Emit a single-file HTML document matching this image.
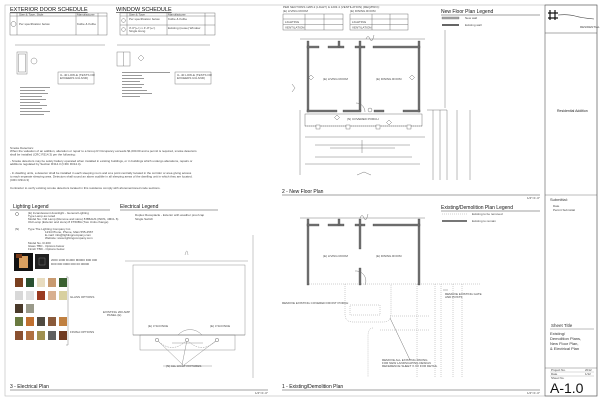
<!DOCTYPE html>
<html><head><meta charset="utf-8"><style>
html,body{margin:0;padding:0;background:#fff}
svg{display:block}
text{font-family:"Liberation Sans",sans-serif}
.t{font-size:3px;fill:#444}
.h{font-size:6.5px;fill:#111}
</style></head><body>
<svg width="600" height="402" viewBox="0 0 600 402" xmlns="http://www.w3.org/2000/svg">
<rect x="0" y="0" width="600" height="402" fill="#fff"/>
<!-- frame -->
<rect x="5" y="5" width="592" height="391" fill="none" stroke="#bbb" stroke-width="0.6"/>
<!-- title block -->
<rect x="545" y="5" width="52" height="391" fill="none" stroke="#555" stroke-width="0.6"/>
<line x1="545" y1="33" x2="597" y2="33" stroke="#555" stroke-width="0.5"/>
<path d="M550 10 L550 20 M555 10 L555 20 M548 13 L558 13 M548 18 L558 18" stroke="#111" stroke-width="1.2"/>
<path d="M558 15 Q568 14 575 16 T594 19" stroke="#444" fill="none" stroke-width="0.6"/>
<text x="580" y="28" class="t">RESIDENTIAL</text>
<text x="557" y="112" style="font-size:3.5px" fill="#222">Residential Addition</text>
<line x1="545" y1="195" x2="597" y2="195" stroke="#555" stroke-width="0.4"/>
<text x="550" y="201" style="font-size:4px" fill="#333">Submittal:</text>
<text x="553" y="207" class="t">Date</text>
<text x="553" y="211" class="t">Permit Submittal</text>
<text x="551" y="327" style="font-size:4.5px" fill="#333">Sheet Title</text>
<line x1="550" y1="329" x2="594" y2="329" stroke="#555" stroke-width="0.4"/>
<text x="550" y="335" style="font-size:4px" fill="#333">Existing/</text>
<text x="550" y="340" style="font-size:4px" fill="#333">Demolition Plans,</text>
<text x="550" y="345" style="font-size:4px" fill="#333">New Floor Plan,</text>
<text x="550" y="350" style="font-size:4px" fill="#333">&amp; Electrical Plan</text>
<line x1="545" y1="368" x2="597" y2="368" stroke="#555" stroke-width="0.4"/>
<text x="551" y="371" class="t">Project No.</text><text x="585" y="371" class="t">2012</text>
<line x1="550" y1="372" x2="594" y2="372" stroke="#888" stroke-width="0.3"/>
<text x="551" y="375" class="t">Date</text><text x="585" y="375" class="t">1/12</text>
<line x1="550" y1="376" x2="594" y2="376" stroke="#888" stroke-width="0.3"/>
<text x="551" y="379" class="t">Sheet No.</text>
<text x="550" y="393" style="font-size:14px" fill="#111">A-1.0</text>

<!-- door schedule -->
<text x="10" y="11" class="h" style="font-size:5.5px;text-decoration:underline">EXTERIOR DOOR SCHEDULE</text>
<g stroke="#555" stroke-width="0.4" fill="none">
<rect x="10" y="13" width="97" height="22"/><line x1="10" y1="16" x2="107" y2="16"/>
<line x1="17" y1="13" x2="17" y2="35"/><line x1="76" y1="13" x2="76" y2="35"/><line x1="98" y1="13" x2="98" y2="35"/>
<circle cx="13.5" cy="24" r="2.5"/>
<rect x="120" y="13" width="95" height="22"/><line x1="120" y1="16" x2="215" y2="16"/><line x1="120" y1="25" x2="215" y2="25"/>
<line x1="127" y1="13" x2="127" y2="35"/><line x1="167" y1="13" x2="167" y2="35"/><line x1="205" y1="13" x2="205" y2="35"/>
<path d="M123.5 18 l2.5 2.5 l-2.5 2.5 l-2.5 -2.5z M123.5 27 l2.5 2.5 l-2.5 2.5 l-2.5 -2.5z"/>
</g>
<text x="19" y="15.3" class="t">Size &amp; Type, Style</text><text x="77" y="15.3" class="t">Manufacturer</text>
<text x="19" y="25" class="t">Per specification below</text><text x="77" y="25" class="t">Kolbe &amp; Kolbe</text>
<text x="116" y="11" class="h" style="font-size:5.5px;text-decoration:underline">WINDOW SCHEDULE</text>
<text x="129" y="15.3" class="t">Size &amp; Type</text><text x="168" y="15.3" class="t">Manufacturer</text>
<text x="129" y="20" class="t">Per specification below</text><text x="168" y="20" class="t">Kolbe &amp; Kolbe</text>
<text x="129" y="29" class="t">3'-0"(+/-) x 4'-0"(+/-)</text><text x="129" y="32" class="t">Single Hung</text><text x="168" y="29" class="t">Existing (reuse) Window</text>
<!-- door detail -->
<g stroke="#666" stroke-width="0.4" fill="none">
<line x1="15" y1="45" x2="105" y2="45"/>
<rect x="17" y="52" width="10" height="22"/><rect x="18.5" y="54" width="7" height="18"/>
<circle cx="34" cy="61" r="3"/>
<rect x="58" y="72" width="36" height="12"/>
<line x1="117" y1="45" x2="210" y2="45"/>
<rect x="117" y="52" width="13" height="14"/><line x1="123.5" y1="52" x2="123.5" y2="66"/>
<path d="M141 55 l3 3 l-3 3 l-3 -3z"/>
<rect x="175" y="72" width="36" height="12"/>
</g>
<g fill="#999">
<rect x="20" y="87" width="30" height="1"/><rect x="20" y="90" width="25" height="1"/><rect x="20" y="93" width="28" height="1"/><rect x="20" y="96" width="22" height="1"/><rect x="20" y="99" width="26" height="1"/><rect x="20" y="102" width="20" height="1"/><rect x="20" y="105" width="27" height="1"/><rect x="20" y="108" width="22" height="1"/><rect x="20" y="111" width="30" height="1"/><rect x="20" y="114" width="24" height="1"/>
<rect x="122" y="72" width="48" height="1"/><rect x="122" y="75" width="20" height="1"/><rect x="122" y="78" width="22" height="1"/><rect x="122" y="81" width="18" height="1"/><rect x="122" y="84" width="22" height="1"/><rect x="122" y="87" width="20" height="1"/><rect x="122" y="90" width="25" height="1"/><rect x="122" y="93" width="30" height="1"/><rect x="122" y="96" width="18" height="1"/>
</g>
<text x="60" y="76" class="t">U-.40 LOW-E (TESTS OR</text><text x="60" y="79" class="t">EXCEEDS U/A AND)</text><text x="177" y="76" class="t">U-.40 LOW-E (TESTS OR</text><text x="177" y="79" class="t">EXCEEDS U/A AND)</text>
<!-- smoke -->
<text x="10" y="149" class="t">Smoke Detectors:</text>
<text x="10" y="152" class="t">When the valuation of an addition, alteration or repair to a Group R Occupancy exceeds $1,000.00 and a permit is required, smoke detectors</text>
<text x="10" y="155.5" class="t">shall be installed (CRC R314.3) per the following:</text>
<text x="10" y="162" class="t">- Smoke detectors may be solely battery operated when installed in existing buildings, or in buildings which undergo alterations, repairs or</text>
<text x="10" y="165" class="t">additions regulated by Section R314.3 (CRC R314.4).</text>
<text x="10" y="174" class="t">- In dwelling units, a detector shall be installed in each sleeping room and at a point centrally located in the corridor or area giving access</text>
<text x="10" y="177.5" class="t">to each separate sleeping area. Detectors shall sound an alarm audible in all sleeping areas of the dwelling unit in which they are located.</text>
<text x="10" y="181" class="t">(CRC R314.3)</text>
<text x="10" y="189" class="t">Contractor to verify existing smoke detectors located in this residence comply with aforementioned code sections.</text>

<!-- top center tables -->
<text x="283" y="8" class="t">PER SECTIONS 1205.2 (LIGHT) &amp; 1203.4 (VENTILATION) (REQ/PRO):</text>
<text x="283" y="12" class="t">(E) LIVING ROOM</text><text x="350" y="12" class="t">(E) DINING ROOM</text>
<g stroke="#555" stroke-width="0.4" fill="none"><rect x="283" y="14" width="60" height="16"/><line x1="283" y1="19" x2="343" y2="19"/><line x1="283" y1="24.5" x2="343" y2="24.5"/><line x1="305" y1="14" x2="305" y2="30"/><line x1="324" y1="14" x2="324" y2="30"/>
<rect x="350" y="14" width="58" height="16"/><line x1="350" y1="19" x2="408" y2="19"/><line x1="350" y1="24.5" x2="408" y2="24.5"/><line x1="372" y1="14" x2="372" y2="30"/><line x1="390" y1="14" x2="390" y2="30"/></g>
<text x="285" y="23" class="t">LIGHTING</text><text x="285" y="28.5" class="t">VENTILATION</text><text x="352" y="23" class="t">LIGHTING</text><text x="352" y="28.5" class="t">VENTILATION</text>
<!-- new floor plan legend -->
<text x="441" y="13" style="font-size:5px" fill="#111">New Floor Plan Legend</text>
<line x1="441" y1="15" x2="540" y2="15" stroke="#444" stroke-width="0.5"/>
<rect x="442" y="17" width="17" height="2" fill="#aaa" stroke="#555" stroke-width="0.3"/>
<rect x="442" y="24" width="17" height="2" fill="#666"/>
<text x="465" y="19" class="t">New wall</text><text x="465" y="26" class="t">Existing wall</text>
<!-- NEW FLOOR PLAN -->
<g stroke="#555" stroke-width="0.4" fill="none">
<line x1="300" y1="39" x2="425" y2="39"/>
<path d="M366 39 q2 -5 4 0 t4 -4"/>
<line x1="445" y1="30" x2="445" y2="108"/>
<line x1="300" y1="110" x2="300" y2="175"/>
<line x1="427" y1="110" x2="447" y2="110"/><line x1="433" y1="110" x2="433" y2="180"/><line x1="440" y1="110" x2="440" y2="180"/><line x1="447" y1="110" x2="447" y2="180"/><line x1="457" y1="110" x2="457" y2="180"/><line x1="470" y1="110" x2="470" y2="180"/>
<rect x="305" y="114" width="117" height="12"/>
<line x1="305" y1="126" x2="422" y2="126" stroke-dasharray="1,1"/>
<line x1="305" y1="137" x2="425" y2="137"/><line x1="315" y1="145" x2="410" y2="145"/><line x1="330" y1="148" x2="395" y2="148"/><line x1="315" y1="157" x2="412" y2="157"/><line x1="305" y1="164" x2="420" y2="164"/>
<line x1="362" y1="140" x2="362" y2="153"/>
<path d="M357 175 l7 -3 l7 3"/>
<path d="M365 112 a9 9 0 0 0 -9 -9"/>
<path d="M292 84 l3 4 l-3 4"/>
<path d="M311 75 l2.5 2.5 l-2.5 2.5 l-2.5 -2.5z M412 75 l2.5 2.5 l-2.5 2.5 l-2.5 -2.5z M337 115 l2.5 2.5 l-2.5 2.5 l-2.5 -2.5z M389 120 l2.5 2.5 l-2.5 2.5 l-2.5 -2.5z"/>
<circle cx="370" cy="110" r="2"/>
</g>
<g fill="#777" stroke="#333" stroke-width="0.3">
<rect x="307" y="41" width="2" height="71"/><rect x="418" y="41" width="2" height="71"/>
<rect x="307" y="46" width="12" height="2"/><rect x="328" y="46" width="16" height="2"/><rect x="338" y="41" width="2" height="6"/>
<rect x="355" y="46" width="10" height="2"/><rect x="359" y="41" width="2" height="70"/>
<rect x="373" y="46" width="47" height="2"/>
<rect x="307" y="110" width="30" height="2"/><rect x="343" y="110" width="18" height="2"/><rect x="374" y="110" width="10" height="2"/><rect x="403" y="110" width="17" height="2"/>
<rect x="316" y="125" width="4" height="4" fill="#fff"/><rect x="346" y="125" width="4" height="4" fill="#fff"/><rect x="376" y="125" width="4" height="4" fill="#fff"/><rect x="407" y="125" width="4" height="4" fill="#fff"/>
</g>
<text x="323" y="80" class="t">(E) LIVING ROOM</text><text x="376" y="80" class="t">(E) DINING ROOM</text>
<text x="347" y="120" class="t">(N) COVERED PORCH</text>
<text x="282" y="193" style="font-size:5px" fill="#111">2 - New Floor Plan</text>
<line x1="282" y1="195" x2="540" y2="195" stroke="#444" stroke-width="0.5"/>
<text x="527" y="199" class="t">1/4"=1'-0"</text>

<!-- LIGHTING -->
<text x="13" y="208" style="font-size:5px" fill="#111">Lighting Legend</text>
<line x1="10" y1="210" x2="110" y2="210" stroke="#444" stroke-width="0.5"/>
<text x="120" y="208" style="font-size:5px" fill="#111">Electrical Legend</text>
<line x1="120" y1="210" x2="218" y2="210" stroke="#444" stroke-width="0.5"/>
<circle cx="17" cy="214" r="1.5" fill="none" stroke="#333" stroke-width="0.4"/>
<text x="28" y="214" class="t">(E) Incandescent downlight - General Lighting</text>
<text x="28" y="217" class="t">Type          Lamp as noted</text>
<text x="28" y="220" class="t">Model No.   Old Lamp (Remove and store) 8 BBAHS (INDS, 4MCL 6)</text>
<text x="28" y="223" class="t">              Old Lamp (Exterior and store) 8 FT60BA (Two Units change)</text>
<text x="15" y="230" class="t">(N)</text>
<text x="28" y="230" class="t">Type          The Lighting Company Inc.</text>
<text x="45" y="233" class="t">1234 Phone, Phone, Main 555-4567</text>
<text x="45" y="236" class="t">E-mail: info@lightingcompany.com</text>
<text x="45" y="239" class="t">Website: www.lightingcompany.com</text>
<text x="28" y="244" class="t">Model No.   R-300</text><text x="28" y="247" class="t">Glass        TBD - Options below</text><text x="28" y="250" class="t">Finish       TBD - Options below</text>
<rect x="14" y="253" width="19" height="18" fill="#111"/><rect x="19" y="256" width="9" height="12" fill="#d9a060"/><rect x="16" y="254" width="6" height="4" fill="#7a3a18"/>
<rect x="35" y="254" width="14" height="15" fill="#222"/><rect x="39" y="258" width="6" height="7" fill="none" stroke="#888" stroke-width="0.4"/>
<text x="51" y="261" class="t">2000 1000 D1000 M0000  D00 000</text><text x="51" y="265" class="t">D00 000 0000  000  00 00000</text>
<g>
<rect x="15" y="278" width="8" height="9" fill="#7a4020"/><rect x="26" y="278" width="8" height="9" fill="#2a5030"/><rect x="37" y="278" width="8" height="9" fill="#e8dcc0"/><rect x="48" y="278" width="8" height="9" fill="#c89a70"/><rect x="59" y="278" width="8" height="9" fill="#3a6030"/>
<rect x="15" y="291" width="8" height="9" fill="#d8d8d8"/><rect x="26" y="291" width="8" height="9" fill="#e0e0e0"/><rect x="37" y="291" width="8" height="9" fill="#9a3a20"/><rect x="48" y="291" width="8" height="9" fill="#d8b090"/><rect x="59" y="291" width="8" height="9" fill="#d8d0a0"/>
<rect x="15" y="304" width="8" height="9" fill="#4a3a2a"/><rect x="26" y="304" width="8" height="9" fill="#9a9a8a"/>
<rect x="15" y="317" width="8" height="9" fill="#6a7a40"/><rect x="26" y="317" width="8" height="9" fill="#c07030"/><rect x="37" y="317" width="8" height="9" fill="#504a40"/><rect x="48" y="317" width="8" height="9" fill="#8a5a3a"/><rect x="59" y="317" width="8" height="9" fill="#c08040"/>
<rect x="15" y="331" width="8" height="9" fill="#8a5030"/><rect x="26" y="331" width="8" height="9" fill="#b07040"/><rect x="37" y="331" width="8" height="9" fill="#a09050"/><rect x="48" y="331" width="8" height="9" fill="#606060"/><rect x="59" y="331" width="8" height="9" fill="#703a20"/>
</g>
<path d="M66 277 h2 v68 h-2" fill="none" stroke="#666" stroke-width="0.4"/>
<text x="70" y="298" class="t">GLASS OPTIONS</text><text x="70" y="333" class="t">FINISH OPTIONS</text>
<text x="135" y="216" class="t">Duplex Receptacle - Exterior with weather proof cap</text>
<text x="135" y="220" class="t">Single Switch</text>
<!-- ELECTRICAL PLAN -->
<g stroke="#777" stroke-width="0.4" fill="none">
<line x1="253" y1="235" x2="253" y2="378"/>
<line x1="125" y1="261" x2="248" y2="261"/>
<rect x="133" y="265" width="112" height="70"/>
<line x1="133" y1="335" x2="245" y2="335"/>
<rect x="140" y="335" width="95" height="15"/>
<path d="M178 335 a16 16 0 0 1 24 0"/>
<path d="M157 340 l26 25 M187 340 l-5 25 M217 340 l-33 25"/>
<path d="M157 340 q15 15 30 0 q15 15 30 0" stroke-dasharray="1.5,1"/>
<line x1="172" y1="343" x2="203" y2="343"/>
<line x1="163" y1="366" x2="212" y2="366"/>
<path d="M185 255 q2 -8 3 0"/>
</g>
<g fill="#fff" stroke="#444" stroke-width="0.4"><circle cx="157" cy="340" r="1.7"/><circle cx="187" cy="340" r="1.7"/><circle cx="217" cy="340" r="1.7"/></g>
<text x="103" y="313" class="t">EXISTING 200 AMP</text><text x="107" y="316" class="t">PANEL (E)</text>
<text x="148" y="327" class="t">(E) 3 SCONCE</text><text x="210" y="327" class="t">(E) 3 SCONCE</text>
<text x="166" y="367" class="t">(N) ALL LIGHT FIXTURES</text>
<text x="10" y="388" style="font-size:5px" fill="#111">3 - Electrical Plan</text>
<line x1="10" y1="390" x2="268" y2="390" stroke="#444" stroke-width="0.5"/>
<text x="255" y="394" class="t">1/4"=1'-0"</text>

<!-- DEMO LEGEND -->
<text x="441" y="209" style="font-size:5px" fill="#111">Existing/Demolition Plan Legend</text>
<line x1="441" y1="211" x2="540" y2="211" stroke="#444" stroke-width="0.5"/>
<line x1="442" y1="214" x2="467" y2="214" stroke="#888" stroke-width="0.4" stroke-dasharray="1,1"/>
<rect x="442" y="220" width="25" height="2" fill="#777"/>
<text x="472" y="215" class="t">Existing to be removed</text><text x="472" y="222" class="t">Existing to remain</text>
<!-- DEMO PLAN -->
<g stroke="#555" stroke-width="0.4" fill="none">
<line x1="300" y1="218" x2="425" y2="218"/><path d="M360 218 q2 -5 4 0 t4 -4"/>
<path d="M365 285 a10 10 0 0 0 -10 -14"/>
<g stroke-dasharray="1,1" stroke="#888">
<line x1="307" y1="284" x2="480" y2="284"/>
<path d="M345 284 v30 q0 8 8 8 h30 q8 0 8 -8 v-30"/>
<rect x="350" y="305" width="30" height="10"/>
<path d="M390 316 h40 M373 328 q-5 0 -5 8 v41 M380 330 h50"/>
<line x1="435" y1="284" x2="435" y2="378"/><line x1="441" y1="284" x2="441" y2="378"/>
<line x1="453" y1="284" x2="453" y2="378"/><line x1="462" y1="284" x2="462" y2="378"/>
<line x1="417" y1="284" x2="417" y2="378"/>
</g>
<line x1="410" y1="360" x2="390" y2="318"/>
<line x1="443" y1="290" x2="448" y2="290"/>
</g>
<g fill="#777" stroke="#333" stroke-width="0.3">
<rect x="307" y="219" width="2" height="66"/><rect x="418" y="219" width="2" height="66"/>
<rect x="307" y="224" width="12" height="2"/><rect x="328" y="224" width="16" height="2"/><rect x="338" y="219" width="2" height="6"/>
<rect x="355" y="224" width="10" height="2"/><rect x="359" y="219" width="2" height="30"/><rect x="359" y="268" width="2" height="17"/>
<rect x="373" y="224" width="47" height="2"/>
</g>
<text x="323" y="257" class="t">(E) LIVING ROOM</text><text x="376" y="257" class="t">(E) DINING ROOM</text>
<text x="445" y="295" class="t">REMOVE EXISTING GATE</text><text x="445" y="298" class="t">AND POSTS</text>
<text x="282" y="304" class="t">REMOVE EXISTING COVERED FRONT PORCH</text>
<text x="382" y="361" class="t">REMOVE ALL EXISTING PAVING</text><text x="382" y="364" class="t">FOR NEW LANDSCAPING DESIGN</text><text x="382" y="367" class="t">REFERENCE SHEET X.XX FOR DETAIL</text>
<text x="282" y="388" style="font-size:5px" fill="#111">1 - Existing/Demolition Plan</text>
<line x1="282" y1="390" x2="540" y2="390" stroke="#444" stroke-width="0.5"/>
<text x="527" y="394" class="t">1/4"=1'-0"</text>
</svg>
</body></html>
